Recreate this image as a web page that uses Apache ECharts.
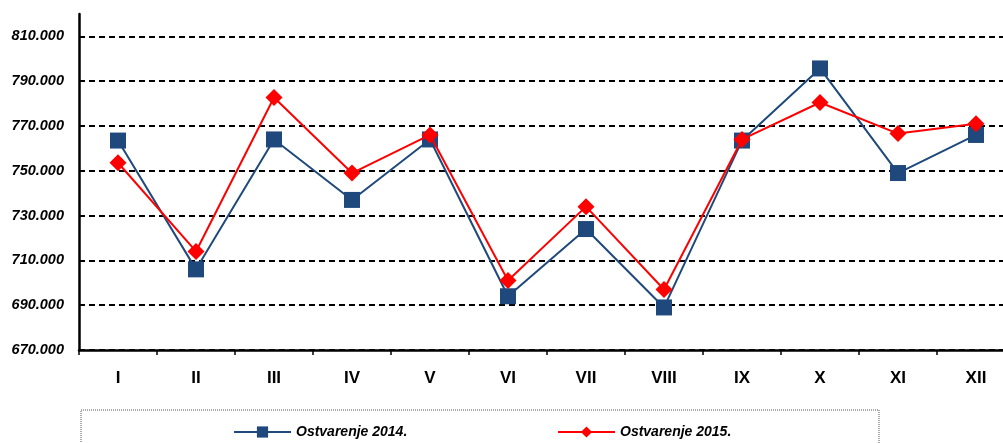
<!DOCTYPE html>
<html>
<head>
<meta charset="utf-8">
<script src="https://cdn.jsdelivr.net/npm/echarts@6/dist/echarts.min.js"></script>
<style>
  html, body { margin: 0; padding: 0; background: #fff; }
  #chart { width: 1003px; height: 443px; }
</style>
</head>
<body>
<div id="chart"></div>
<script>
const months = ['I', 'II', 'III', 'IV', 'V', 'VI', 'VII', 'VIII', 'IX', 'X', 'XI', 'XII']
const values2014 = [763500, 706000, 764000, 737000, 764000, 694000, 724000, 689000, 763500, 795700, 749000, 766000]
const values2015 = [753600, 714000, 782700, 749000, 766000, 701000, 734000, 697000, 764000, 780500, 766600, 771000]
const name2014 = 'Ostvarenje 2014.'
const name2015 = 'Ostvarenje 2015.'

const chart = echarts.init(document.getElementById('chart'))

const legendText = {
    fontFamily: 'Liberation Sans, Arial, sans-serif',
    fontWeight: 'bold',
    fontStyle: 'italic',
    fontSize: 14,
    color: '#000'
}

chart.setOption({
    animation: false,
    grid: {
        left: 79,
        top: 14,
        width: 936,
        height: 336,
        outerBoundsMode: 'none',
        containLabel: false
    },
    graphic: [
        {
            type: 'rect',
            shape: { x: 81, y: 410, width: 798, height: 40 },
            style: { fill: '#fff', stroke: '#aaa', lineWidth: 2, lineDash: [1, 1] },
            z: -1
        }
    ],
    legend: [
        {
            data: [name2014],
            left: 233,
            top: 425,
            padding: 0,
            itemWidth: 57,
            itemHeight: 14,
            itemGap: 5,
            textStyle: legendText
        },
        {
            data: [name2015],
            left: 557,
            top: 425,
            padding: 0,
            itemWidth: 57,
            itemHeight: 14,
            textStyle: legendText
        }
    ],
    xAxis: {
        type: 'category',
        data: months,
        boundaryGap: true,
        axisLine: { lineStyle: { color: '#000', width: 2.5 } },
        axisTick: { show: true, length: 5, lineStyle: { color: '#000', width: 1.5 } },
        axisLabel: {
            margin: 20,
            color: '#000',
            fontFamily: 'Liberation Sans, Arial, sans-serif',
            fontWeight: 'bold',
            fontSize: 17
        }
    },
    yAxis: {
        type: 'value',
        min: 670000,
        max: 820000,
        interval: 10000,
        axisLine: { show: true, lineStyle: { color: '#000', width: 2.5 } },
        axisTick: { show: false },
        axisLabel: {
            margin: 15,
            color: '#000',
            fontFamily: 'Liberation Sans, Arial, sans-serif',
            fontWeight: 'bold',
            fontStyle: 'italic',
            fontSize: 14.5,
            formatter: function (v) {
                if (((v - 670000) / 10000) % 2 !== 0) return ''
                return (v / 1000).toFixed(3)
            }
        },
        splitLine: {
            show: true,
            lineStyle: {
                color: ['#000', 'rgba(0,0,0,0)'],
                width: 2,
                type: [6, 4]
            }
        }
    },
    series: [
        {
            name: name2014,
            type: 'line',
            data: values2014,
            symbol: 'rect',
            symbolSize: 16,
            itemStyle: { color: '#1F497D' },
            lineStyle: { color: '#1F497D', width: 2 },
            z: 2
        },
        {
            name: name2015,
            type: 'line',
            data: values2015,
            symbol: 'diamond',
            symbolSize: 17,
            itemStyle: { color: '#FF0000' },
            lineStyle: { color: '#FF0000', width: 2 },
            z: 3
        }
    ]
})
</script>
</body>
</html>
